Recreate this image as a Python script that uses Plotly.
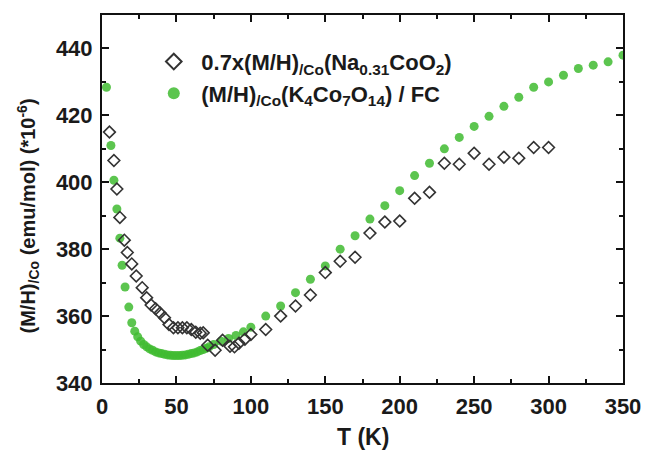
import plotly.graph_objects as go

# Na0.31CoO2 (scaled by 0.7) - open diamonds
na_T = [5, 8, 10, 12, 15, 17, 20, 23, 27, 30, 33, 36, 39, 42, 45, 48, 51, 54, 57, 60,
        63, 66, 68, 71, 76, 81, 86, 89, 92, 96, 100, 110, 120, 130, 140, 150, 160, 170,
        180, 190, 200, 210, 220, 230, 240, 250, 260, 270, 280, 290, 300]
na_M = [415, 406.5, 398, 389.5, 382.7, 379, 375.6, 372, 368.5, 365.5, 363.3, 362.2, 360.9,
        359.5, 357.5, 356.5, 356.5, 356.5, 356.5, 356, 355.2, 354.9, 355, 351.3, 349.8,
        352.8, 351, 350.8, 351.9, 353.1, 354.5, 356, 360, 363, 366.3, 373, 376.4, 377.6,
        384.8, 388.1, 388.4, 395.2, 397, 405.7, 405.4, 408.7, 405.4, 407.5, 407.2, 410.4, 410.4]

# K4Co7O14 / FC - filled green circles
k_T = [3, 6, 8, 10, 12, 13.5, 15.5, 18, 20, 22, 24, 26, 28, 30, 32, 34, 36, 38, 40, 42,
       44, 46, 48, 50, 52, 54, 56, 58, 60, 62, 64, 66, 68, 70, 72, 75, 80, 85, 90, 95,
       100, 110, 120, 130, 140, 150, 160, 170, 180, 190, 200, 210, 220, 230, 240, 250,
       260, 270, 280, 290, 300, 310, 320, 330, 340, 350]
k_M = [428.4, 411, 400.6, 392, 383.3, 375.2, 368.7, 362.7, 358, 355.5, 353.8, 352.5, 351.5,
       350.8, 350.2, 349.8, 349.3, 349, 348.8, 348.6, 348.4, 348.3, 348.2, 348.2, 348.2,
       348.3, 348.4, 348.6, 348.8, 349, 349.3, 349.7, 350, 350.4, 350.8, 351.5, 352.5,
       353.3, 354.2, 355.3, 356.7, 360, 363, 367, 371, 375, 380, 384, 389, 393, 397.5, 402,
       405.7, 410, 413.4, 416.7, 419.7, 422.7, 425.4, 428.4, 430, 432, 434, 435, 436, 438]

name_na = "<b>0.7x(M/H)<sub>/Co</sub>(Na<sub>0.31</sub>CoO<sub>2</sub>)</b>"
name_k = "<b>(M/H)<sub>/Co</sub>(K<sub>4</sub>Co<sub>7</sub>O<sub>14</sub>) / FC</b>"

FONT = "Liberation Sans, Arial"

fig = go.Figure()
fig.add_trace(go.Scatter(
    x=k_T, y=k_M, mode="markers", name=name_k,
    marker=dict(symbol="circle", size=9, color="#3fbb30", opacity=0.85, line=dict(width=0)),
))
fig.add_trace(go.Scatter(
    x=na_T, y=na_M, mode="markers", name=name_na,
    marker=dict(symbol="diamond-open", size=9, color="#333333", line=dict(width=1.6, color="#333333")),
))

axis_common = dict(
    showline=True, linewidth=2, linecolor="#111111", mirror="allticks",
    ticks="inside", ticklen=7, tickwidth=1.5, tickcolor="#111111",
    showgrid=False, zeroline=False, ticklabelstandoff=3,
    tickfont=dict(family=FONT, size=22, color="#1a1a1a", weight="bold"),
)

fig.update_layout(
    width=653, height=450,
    margin=dict(l=102, r=20, t=15, b=67),
    paper_bgcolor="white", plot_bgcolor="white",
    xaxis=dict(range=[0, 350], tick0=0, dtick=50,
               minor=dict(dtick=25, ticks="inside", ticklen=4, tickcolor="#111111"),
               **axis_common),
    yaxis=dict(range=[340, 450], tick0=340, dtick=20,
               minor=dict(dtick=10, ticks="inside", ticklen=4, tickcolor="#111111"),
               **axis_common),
    legend=dict(
        x=0.085, y=0.93, xanchor="left", yanchor="top",
        bgcolor="rgba(0,0,0,0)", traceorder="reversed",
        font=dict(family=FONT, size=22, color="#1a1a1a"),
        itemsizing="constant", itemwidth=45, tracegroupgap=0,
    ),
    annotations=[
        dict(text="<b>T (K)</b>", xref="paper", yref="paper", x=0.5, y=-0.147,
             xanchor="center", yanchor="middle", showarrow=False,
             font=dict(family=FONT, size=23, color="#1a1a1a")),
        dict(text="<b>(M/H)<sub>/Co</sub> (emu/mol) (*10<sup>-6</sup>)</b>", xref="paper", yref="paper",
             x=-0.141, y=0.454, xanchor="center", yanchor="middle", textangle=-90, showarrow=False,
             font=dict(family=FONT, size=20, color="#1a1a1a")),
    ],
)

fig.write_html("out.html")
